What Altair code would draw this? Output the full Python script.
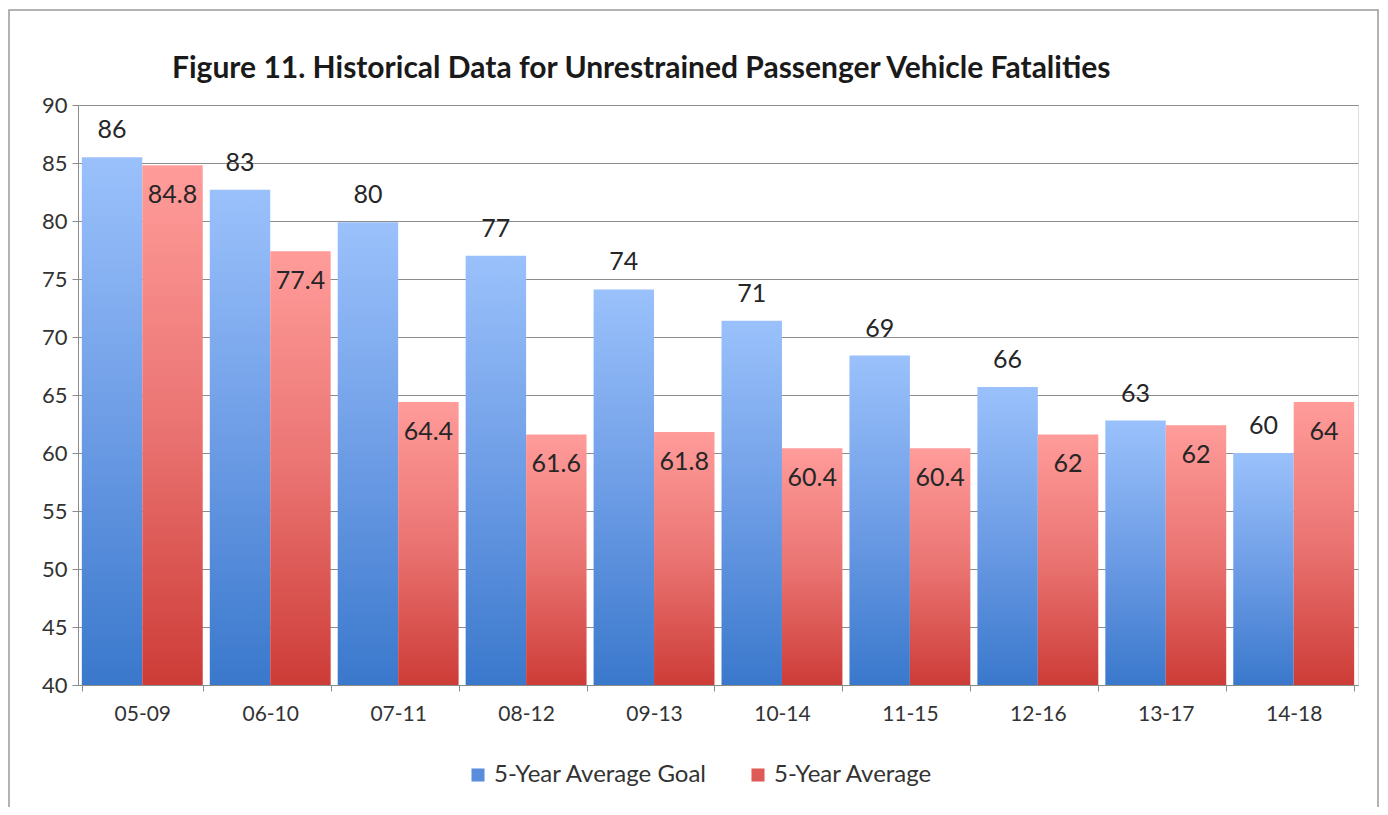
import altair as alt
import pandas as pd

periods = ["05-09", "06-10", "07-11", "08-12", "09-13", "10-14", "11-15", "12-16", "13-17", "14-18"]
goal_values = [85.5, 82.7, 79.9, 77.0, 74.1, 71.4, 68.4, 65.7, 62.8, 60.0]
goal_labels = ["86", "83", "80", "77", "74", "71", "69", "66", "63", "60"]
avg_values = [84.8, 77.4, 64.4, 61.6, 61.8, 60.4, 60.4, 61.6, 62.4, 64.4]
avg_labels = ["84.8", "77.4", "64.4", "61.6", "61.8", "60.4", "60.4", "62", "62", "64"]
series_names = ["5-Year Average Goal", "5-Year Average"]
axis_min, axis_max = 40, 90

FONT = "Lato"

goal_df = pd.DataFrame({"period": periods, "value": goal_values, "label": goal_labels,
                        "series": series_names[0]})
avg_df = pd.DataFrame({"period": periods, "value": avg_values, "label": avg_labels,
                       "series": series_names[1]})
all_df = pd.concat([goal_df, avg_df])

x_enc = alt.X("period:N", sort=periods, title=None,
              scale=alt.Scale(paddingInner=0.055, paddingOuter=0.03),
              axis=alt.Axis(labelAngle=0, tickBand="extent", labelFontSize=21, labelFont=FONT,
                            labelColor="#333333", domainColor="#8c8c8c", tickColor="#8c8c8c",
                            tickSize=6, labelPadding=12, grid=False))
y_enc = alt.Y("value:Q", title=None,
              scale=alt.Scale(domain=[axis_min, axis_max], nice=False, zero=False),
              axis=alt.Axis(values=list(range(axis_min, axis_max + 1, 5)), labelFontSize=22,
                            labelFont=FONT, labelColor="#333333", domainColor="#8c8c8c",
                            tickColor="#8c8c8c", tickSize=6, labelPadding=5,
                            gridColor="#8c8c8c", gridWidth=1.2))
xoff = alt.XOffset("series:N", sort=series_names,
                   scale=alt.Scale(domain=series_names, paddingInner=0, paddingOuter=0))

blue_grad = alt.Gradient(gradient="linear", x1=0, x2=0, y1=0, y2=1,
                         stops=[alt.GradientStop(color="#9ac1fb", offset=0),
                                alt.GradientStop(color="#6e9de6", offset=0.5),
                                alt.GradientStop(color="#3a78cc", offset=1)])
red_grad = alt.Gradient(gradient="linear", x1=0, x2=0, y1=0, y2=1,
                        stops=[alt.GradientStop(color="#ff9c9a", offset=0),
                               alt.GradientStop(color="#ea7472", offset=0.5),
                               alt.GradientStop(color="#cd3c37", offset=1)])

goal_bars = alt.Chart(goal_df).mark_bar(fill=blue_grad, opacity=1).encode(
    x=x_enc, y=y_enc, y2=alt.datum(axis_min), xOffset=xoff)
avg_bars = alt.Chart(avg_df).mark_bar(fill=red_grad, opacity=1).encode(
    x=x_enc, y=y_enc, y2=alt.datum(axis_min), xOffset=xoff)

goal_text = alt.Chart(goal_df).mark_text(font=FONT, fontSize=25, color="#262626",
                                         baseline="middle", dy=-27).encode(
    x=x_enc, y=y_enc, xOffset=xoff, text="label:N")
avg_text = alt.Chart(avg_df).mark_text(font=FONT, fontSize=25, color="#262626",
                                       baseline="middle", dy=30).encode(
    x=x_enc, y=y_enc, xOffset=xoff, text="label:N")

legend_layer = alt.Chart(all_df).mark_square(size=0, opacity=0).encode(
    x=x_enc, y=y_enc,
    color=alt.Color("series:N", sort=series_names,
                    scale=alt.Scale(domain=series_names, range=["#5a8edc", "#de5a57"]),
                    legend=alt.Legend(title=None, orient="none", direction="horizontal",
                                      legendX=388, legendY=658, symbolType="square",
                                      symbolSize=170, symbolOpacity=1, symbolStrokeWidth=0,
                                      labelFontSize=24, labelFont=FONT, labelColor="#333333",
                                      labelLimit=400, columnPadding=38, labelOffset=4)))

frame = alt.Chart(pd.DataFrame({"a": [0]})).mark_rect(
    fill=None, stroke="#9a9a9a", strokeWidth=1.5, clip=False).encode(
    x=alt.value(-69), x2=alt.value(1300), y=alt.value(-95), y2=alt.value(760))

chart = alt.layer(frame, goal_bars, avg_bars, goal_text, avg_text, legend_layer).properties(
    width=1280, height=580,
    padding={"left": 70, "top": 97, "right": 22, "bottom": 122},
    autosize=alt.AutoSizeParams(type="none"),
    title=alt.TitleParams("Figure 11. Historical Data for Unrestrained Passenger Vehicle Fatalities",
                          anchor="start", frame="group", dx=94, offset=-75, font=FONT, fontSize=30,
                          fontWeight="bold", color="#1a1a1a"),
).configure_view(stroke=None).configure(background="white")

chart.save("out.html", embed_options={"renderer": "svg", "actions": False})
